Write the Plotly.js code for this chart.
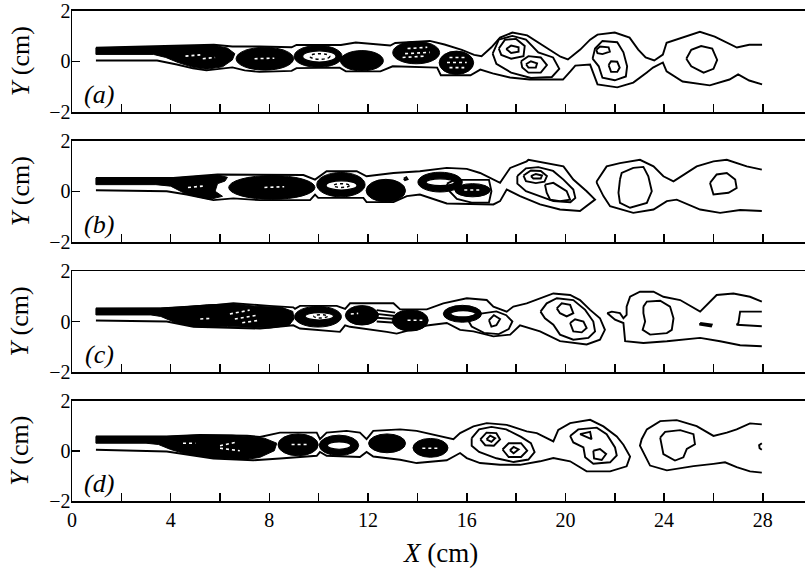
<!DOCTYPE html>
<html><head><meta charset="utf-8">
<script src="https://cdn.plot.ly/plotly-3.0.1.min.js"></script>
<style>body{margin:0;background:#fff}#chart{width:805px;height:568px}</style>
</head><body><div id="chart"></div>
<script>
// ---------- tick labels ----------
const xTickVals = [0,2,4,6,8,10,12,14,16,18,20,22,24,26,28];
const xTickText = ['0','','4','','8','','12','','16','','20','','24','','28'];
const yTickVals = [-2,0,2];
const yTickText = ['\u22122','0','2'];
const panelLabels = ['(a)','(b)','(c)','(d)'];

// ---------- panel (a) ----------
const aEnvelope = [
 [[0.97,0.53],[3.6,0.58],[5.0,0.62],[5.75,0.65],[6.5,0.58],[7.6,0.58],[8.9,0.55],[9.1,0.64],[10.9,0.64],[11.5,0.74],[12.9,0.62],[13.1,0.72],[14.5,0.8],[15.1,0.66],[15.8,0.45],[16.3,0.25],[16.6,0.2],[17.0,0.55],[17.35,0.93],[17.85,1.13],[18.45,1.02],[19.17,0.58],[19.8,0.18],[20.1,0.07],[20.6,0.46],[21.0,0.85],[21.3,1.05],[22.0,1.13],[22.6,0.93],[22.95,0.46],[23.25,0.15],[23.6,0.03],[23.95,0.26],[24.1,0.73],[24.85,0.97],[25.45,1.16],[26.05,0.97],[26.95,0.54],[27.45,0.65],[27.97,0.65]],
 [[0.97,0.03],[3.45,0.03],[4.25,-0.13],[4.9,-0.28],[5.45,-0.36],[6.5,-0.24],[7.0,-0.36],[7.6,-0.42],[8.9,-0.38],[9.1,-0.27],[10.85,-0.25],[11.1,-0.4],[12.5,-0.4],[13.0,-0.2],[14.8,-0.25],[14.95,-0.55],[16.15,-0.55],[16.55,-0.33],[17.05,-0.48],[17.75,-0.64],[18.55,-0.72],[19.9,-0.72],[20.2,-0.4],[20.4,-0.17],[21.0,-0.13],[21.3,-0.91],[22.1,-1.03],[22.75,-0.84],[23.3,-0.44],[23.55,-0.25],[23.95,-0.05],[24.1,-0.4],[24.75,-0.8],[25.85,-0.95],[26.65,-0.72],[27.0,-0.52],[27.45,-0.76],[27.97,-0.91]]
];
const aLoops = [
 [[17.05,0.3],[17.3,0.85],[17.85,1.0],[18.4,0.85],[18.9,0.35],[19.5,0.15],[19.75,-0.3],[19.45,-0.62],[18.6,-0.66],[17.8,-0.45],[17.2,-0.1]],
 [[17.3,0.5],[17.55,0.85],[18.0,0.88],[18.35,0.6],[18.3,0.2],[17.8,0.1],[17.4,0.25]],
 [[17.6,0.48],[17.8,0.62],[18.1,0.55],[18.1,0.38],[17.8,0.33]],
 [[18.2,0.0],[18.5,0.2],[19.0,0.15],[19.25,-0.15],[19.0,-0.45],[18.5,-0.45],[18.25,-0.25]],
 [[18.4,-0.12],[18.6,0.0],[18.85,-0.08],[18.8,-0.25],[18.5,-0.25]],
 [[21.1,0.1],[21.2,0.5],[21.5,0.8],[22.1,0.75],[22.35,0.35],[22.5,-0.2],[22.45,-0.6],[22.0,-0.75],[21.5,-0.65],[21.35,-0.2]],
 [[21.25,0.45],[21.4,0.58],[21.75,0.55],[21.8,0.38],[21.5,0.28],[21.3,0.32]],
 [[21.75,-0.15],[21.85,0.0],[22.1,-0.02],[22.2,-0.25],[22.1,-0.42],[21.85,-0.42]],
 [[24.9,0.1],[25.1,0.45],[25.5,0.6],[25.95,0.5],[26.15,0.05],[26.0,-0.3],[25.6,-0.45],[25.1,-0.2]]
];
const aJet = [[0.97,0.53],[3.5,0.56],[4.5,0.6],[5.3,0.62],[5.8,0.62],[6.3,0.52],[6.6,0.3],[6.5,0.05],[6.1,-0.22],[5.45,-0.32],[4.9,-0.24],[4.3,-0.05],[3.8,0.15],[3.3,0.27],[0.97,0.27]];
// blobs: [x0, x1, y0, y1]
const aBlobs = [[6.65,8.98,-0.35,0.55],[9.0,10.95,-0.24,0.62],[10.88,12.62,-0.38,0.42],[13.0,14.9,-0.1,0.78],[14.88,16.28,-0.52,0.4]];
const aHoles = [[9.35,10.7,-0.03,0.41]];
const aRings = [[9.65,10.45,0.08,0.3]];
const aStreaks = [
 [[13.5,0.3],[14.5,0.35]],[[13.6,0.5],[14.4,0.55]],[[13.4,0.15],[14.3,0.2]],
 [[15.2,-0.05],[16.0,-0.05]],[[15.3,0.15],[15.95,0.15]],[[15.3,-0.25],[15.9,-0.25]],
 [[4.6,0.2],[5.2,0.25]],[[5.3,0.1],[5.8,0.15]],[[7.4,0.1],[8.2,0.12]]
];

// ---------- panel (b) ----------
const bEnvelope = [
 [[0.97,0.52],[4.1,0.52],[5.9,0.66],[8.0,0.64],[9.38,0.64],[9.85,0.46],[10.32,0.79],[11.54,0.79],[11.94,0.59],[13.03,0.72],[14.1,0.79],[15.19,0.92],[16.0,0.88],[16.54,0.72],[17.35,0.33],[17.76,0.92],[18.43,1.18],[18.5,1.24],[19.51,1.05],[19.92,0.98],[20.32,0.46],[20.86,0.0],[21.2,-0.33],[20.86,-0.59],[20.59,-0.78],[19.78,-0.72],[18.97,-0.52],[18.16,-0.19],[17.89,-0.06],[17.62,0.07],[17.35,-0.39],[17.08,-0.52],[15.19,-0.48],[14.1,-0.13],[13.57,-0.19],[13.03,-0.43],[11.94,-0.43],[11.81,-0.26],[9.98,-0.26],[9.85,-0.13],[9.65,-0.35],[7.62,-0.35],[6.54,-0.28],[5.73,-0.35],[4.65,-0.13],[3.84,0.0],[0.97,0.04]],
 [[27.96,0.85],[27.35,0.98],[26.54,1.24],[26.0,1.18],[25.32,0.98],[24.38,0.39],[23.97,0.59],[23.57,0.98],[23.02,1.24],[22.21,1.11],[21.67,0.98],[21.27,0.39],[21.27,0.33],[21.54,-0.19],[21.81,-0.59],[22.75,-0.85],[23.57,-0.72],[24.11,-0.39],[24.51,-0.33],[25.46,-0.72],[26.27,-0.85],[27.08,-0.74],[27.96,-0.78]]
];
const bLoops = [
 [[18.05,0.6],[18.4,0.9],[18.9,0.95],[19.5,0.8],[19.92,0.46],[20.32,0.07],[20.4,-0.26],[20.2,-0.43],[19.51,-0.39],[18.97,-0.19],[18.4,0.0],[18.05,0.3]],
 [[18.3,0.62],[18.6,0.82],[19.0,0.8],[19.25,0.6],[19.15,0.38],[18.8,0.32],[18.4,0.4]],
 [[18.6,0.6],[18.8,0.68],[19.05,0.62],[19.0,0.5],[18.7,0.5]],
 [[19.17,0.26],[19.51,0.33],[20.05,0.0],[20.19,-0.33],[19.78,-0.39],[19.38,-0.33],[19.24,-0.06]],
 [[22.21,0.46],[22.28,0.72],[22.75,0.92],[23.16,0.96],[23.36,0.59],[23.5,0.0],[23.3,-0.46],[22.62,-0.65],[22.21,-0.46],[22.15,-0.06]],
 [[25.86,0.33],[26.13,0.66],[26.54,0.72],[26.88,0.46],[26.94,0.13],[26.61,-0.06],[26.0,-0.13]],
 [[15.2,0.3],[15.5,0.45],[16.9,0.45],[17.0,0.0],[16.9,-0.45],[16.2,-0.45],[15.6,-0.3],[15.3,0.0]],
 [[13.45,0.5],[13.55,0.55],[13.6,0.47],[13.5,0.44]]
];
const bJet = [[0.97,0.52],[4.2,0.53],[5.2,0.6],[5.9,0.64],[6.3,0.55],[6.2,0.4],[5.9,0.3],[5.8,0.0],[6.1,-0.2],[5.6,-0.32],[5.0,-0.2],[4.6,-0.1],[4.0,0.2],[3.4,0.26],[0.97,0.26]];
const bBlobs = [[6.35,9.85,-0.32,0.62],[9.92,11.88,-0.22,0.74],[11.92,13.52,-0.42,0.47],[14.02,15.82,-0.03,0.75],[15.52,16.95,-0.22,0.3]];
const bHoles = [[10.3,11.55,0.05,0.41],[14.35,15.5,0.22,0.49]];
const bRings = [[10.6,11.25,0.15,0.3]];
const bStreaks = [
 [[7.8,0.15],[8.6,0.18]],[[15.9,0.05],[16.6,0.05]],[[4.7,0.15],[5.3,0.2]]
];

// ---------- panel (c) ----------
const cEnvelope = [
 [[0.97,0.52],[3.57,0.52],[5.86,0.66],[6.54,0.72],[8.0,0.62],[8.97,0.56],[9.04,0.5],[9.24,0.62],[10.73,0.62],[11.07,0.5],[11.27,0.72],[13.03,0.72],[13.3,0.48],[14.38,0.48],[15.05,0.72],[16.0,0.92],[16.81,0.85],[17.08,0.59],[17.62,0.39],[17.89,0.59],[18.43,0.72],[18.97,0.92],[19.51,1.11],[20.19,1.05],[20.59,0.85],[21.0,0.46],[21.4,0.13],[21.6,-0.33],[21.4,-0.72],[20.86,-0.91],[19.78,-0.78],[18.97,-0.39],[18.16,-0.15],[17.76,-0.52],[17.08,-0.59],[16.27,-0.39],[15.73,-0.33],[15.19,-0.06],[14.38,-0.16],[13.16,-0.48],[12.76,-0.41],[11.27,-0.21],[11.07,-0.15],[10.86,-0.41],[9.24,-0.28],[8.97,-0.15],[7.62,-0.28],[4.92,-0.21],[3.84,0.0],[0.97,0.04]],
 [[27.96,0.79],[27.48,0.98],[26.81,1.11],[26.13,1.05],[25.46,0.39],[24.65,0.85],[23.97,0.98],[23.57,1.18],[23.02,1.18],[22.62,0.98],[22.48,0.59],[22.48,0.26],[22.35,0.13],[22.21,0.33],[21.88,0.39],[21.7,0.33],[22.01,0.07],[22.35,-0.06],[22.42,-0.78],[23.16,-0.85],[24.11,-0.78],[25.46,-0.65],[26.27,-0.78],[27.08,-0.94],[27.96,-0.98]],
 [[27.96,0.39],[27.08,0.39],[27.01,-0.06],[26.94,-0.13],[27.62,-0.17],[27.96,-0.19]],
 [[12.35,0.45],[13.1,0.35]],[[12.35,0.3],[13.1,0.22]],[[12.35,0.15],[13.1,0.1]],[[12.35,0.0],[13.1,-0.05]]
];
const cLoops = [
 [[18.99,0.39],[19.24,0.72],[19.65,0.92],[20.32,0.85],[20.8,0.46],[21.13,0.0],[21.2,-0.39],[20.93,-0.65],[20.32,-0.72],[19.78,-0.52],[19.51,-0.13],[19.17,0.13]],
 [[19.65,0.52],[19.85,0.72],[20.19,0.66],[20.32,0.33],[20.05,0.2],[19.78,0.33]],
 [[20.19,-0.06],[20.39,0.09],[20.73,0.0],[20.86,-0.26],[20.66,-0.43],[20.32,-0.39]],
 [[23.16,0.59],[23.3,0.79],[23.84,0.82],[24.24,0.59],[24.38,0.13],[24.31,-0.33],[24.11,-0.46],[23.43,-0.52],[23.13,-0.33],[23.23,0.0],[23.16,0.33]],
 [[25.46,-0.06],[25.93,-0.12],[25.9,-0.2],[25.46,-0.13]],
 [[16.0,0.15],[16.5,0.3],[17.2,0.4],[17.6,0.25],[17.85,0.0],[17.7,-0.3],[17.3,-0.5],[16.7,-0.45],[16.2,-0.2]],
 [[16.9,0.05],[17.1,0.25],[17.35,0.1],[17.2,-0.15],[17.0,-0.2]]
];
const cJet = [[0.97,0.52],[3.6,0.53],[4.5,0.58],[5.5,0.66],[6.5,0.7],[7.5,0.6],[8.5,0.56],[8.95,0.4],[9.0,0.1],[8.8,-0.15],[8.0,-0.26],[7.0,-0.22],[6.3,-0.2],[5.5,-0.24],[4.9,-0.2],[4.2,-0.05],[3.6,0.2],[3.2,0.26],[0.97,0.26]];
const cBlobs = [[9.02,10.92,-0.22,0.6],[11.08,12.42,-0.14,0.63],[12.98,14.44,-0.38,0.47],[15.05,16.6,-0.03,0.64]];
const cHoles = [[9.45,10.6,0.06,0.35],[15.35,16.35,0.18,0.43]];
const cRings = [[9.8,10.35,0.14,0.27]];
const cStreaks = [
 [[6.4,0.3],[7.2,0.45]],[[6.6,0.1],[7.5,0.25]],[[6.9,-0.05],[7.6,0.05]],[[5.2,0.1],[5.6,0.12]],
 [[11.3,0.3],[11.6,0.32]],[[13.6,0.05],[14.2,0.05]]
];

// ---------- panel (d) ----------
const dEnvelope = [
 [[0.97,0.57],[3.84,0.57],[5.19,0.63],[7.1,0.6],[7.62,0.55],[8.43,0.72],[9.92,0.72],[10.05,0.46],[10.32,0.72],[11.13,0.79],[11.67,0.72],[11.94,0.46],[12.21,0.79],[13.3,0.85],[13.97,0.79],[14.92,0.59],[15.46,0.46],[15.73,0.7],[16.27,0.97],[16.81,1.1],[17.62,1.03],[18.43,0.77],[18.84,0.7],[19.51,0.37],[19.71,0.83],[20.19,1.1],[21.0,1.23],[21.54,0.97],[22.08,0.57],[22.35,0.24],[22.62,-0.23],[22.48,-0.62],[21.81,-0.82],[20.86,-0.82],[20.19,-0.42],[19.51,-0.29],[18.97,-0.42],[18.16,-0.56],[17.35,-0.56],[16.54,-0.49],[16.0,-0.29],[15.73,-0.09],[15.19,-0.38],[13.97,-0.49],[13.3,-0.36],[12.21,-0.23],[11.94,-0.05],[11.67,-0.25],[10.32,-0.2],[10.05,-0.05],[9.92,-0.2],[8.43,-0.31],[7.62,-0.38],[7.35,-0.38],[5.73,-0.31],[4.65,-0.16],[3.84,-0.03],[0.97,0.04]],
 [[27.96,1.05],[27.48,1.09],[26.94,0.85],[26.54,0.72],[26.0,0.59],[25.32,0.98],[24.51,1.22],[23.84,1.18],[23.3,0.85],[23.09,0.46],[23.02,0.2],[23.23,-0.19],[23.43,-0.59],[24.11,-0.78],[25.19,-0.61],[26.0,-0.52],[26.47,-0.46],[26.94,-0.65],[27.48,-0.82],[27.96,-0.87]],
 [[27.96,0.3],[27.85,0.22],[27.87,0.1],[27.96,0.04]]
];
const dLoops = [
 [[20.19,0.59],[20.52,0.85],[21.27,0.92],[21.67,0.66],[22.01,0.13],[22.08,-0.19],[21.81,-0.46],[21.13,-0.52],[20.8,-0.26],[20.73,0.13],[20.32,0.33]],
 [[20.59,0.66],[21.0,0.75],[21.06,0.46]],
 [[21.13,0.0],[21.4,0.07],[21.65,-0.13],[21.47,-0.37],[21.16,-0.31]],
 [[23.84,0.52],[24.04,0.75],[24.65,0.82],[25.19,0.66],[25.25,0.26],[24.92,0.07],[24.78,-0.26],[24.44,-0.39],[23.97,-0.13],[23.9,0.2]],
 [[16.2,0.5],[16.5,0.85],[17.0,0.95],[17.6,0.85],[18.2,0.55],[18.6,0.3],[18.75,-0.05],[18.5,-0.35],[17.9,-0.45],[17.2,-0.3],[16.5,-0.05],[16.2,0.2]],
 [[16.55,0.45],[16.8,0.72],[17.2,0.7],[17.35,0.45],[17.1,0.2],[16.75,0.22]],
 [[16.8,0.45],[16.95,0.6],[17.15,0.5],[17.0,0.35]],
 [[17.45,0.05],[17.7,0.3],[18.2,0.3],[18.45,0.0],[18.2,-0.25],[17.7,-0.25]],
 [[17.75,0.02],[17.9,0.15],[18.1,0.05],[17.9,-0.1]]
];
const dJet = [[0.97,0.57],[3.84,0.57],[5.19,0.63],[6.5,0.62],[7.3,0.55],[7.8,0.5],[8.3,0.3],[8.2,0.0],[7.6,-0.27],[7.0,-0.35],[5.7,-0.29],[4.65,-0.14],[4.0,0.05],[3.5,0.25],[3.0,0.3],[0.97,0.3]];
const dBlobs = [[8.35,9.98,-0.2,0.67],[10.02,11.62,-0.19,0.62],[12.02,13.52,-0.08,0.67],[13.82,15.24,-0.26,0.49]];
const dHoles = [[10.35,11.3,0.06,0.35]];
const dRings = [];
const dStreaks = [
 [[6.0,0.2],[6.7,0.35]],[[6.0,0.1],[6.8,0.0]],[[4.5,0.3],[5.0,0.3]],
 [[8.9,0.25],[9.6,0.25]],[[14.2,0.1],[14.9,0.1]]
];

// ---------- build ----------
const panels = [
 {env:aEnvelope, loops:aLoops, jet:aJet, blobs:aBlobs, holes:aHoles, rings:aRings, streaks:aStreaks},
 {env:bEnvelope, loops:bLoops, jet:bJet, blobs:bBlobs, holes:bHoles, rings:bRings, streaks:bStreaks},
 {env:cEnvelope, loops:cLoops, jet:cJet, blobs:cBlobs, holes:cHoles, rings:cRings, streaks:cStreaks},
 {env:dEnvelope, loops:dLoops, jet:dJet, blobs:dBlobs, holes:dHoles, rings:dRings, streaks:dStreaks}
];
function joinLines(list, close){
  const x=[], y=[];
  list.forEach((pts,i)=>{
    if(i>0){x.push(null);y.push(null);}
    pts.forEach(p=>{x.push(p[0]);y.push(p[1]);});
    if(close){x.push(pts[0][0]);y.push(pts[0][1]);}
  });
  return {x,y};
}
const FONT = 'Liberation Serif';
const panelPx = [[10.5,112],[140.5,242],[271,372],[400.5,501]];
const H = 568;
const traces = [];
const layout = {
  width:805, height:568, margin:{l:72,r:0,t:0,b:0},
  paper_bgcolor:'#fff', plot_bgcolor:'#fff', showlegend:false,
  font:{family:FONT, color:'#000'}, annotations:[], shapes:[]
};
panels.forEach((p,i)=>{
  const xa = i===0?'x':'x'+(i+1), ya = i===0?'y':'y'+(i+1);
  const xk = i===0?'xaxis':'xaxis'+(i+1), yk = i===0?'yaxis':'yaxis'+(i+1);
  p.blobs.forEach(b=>layout.shapes.push({type:'circle',xref:xa,yref:ya,x0:b[0],x1:b[1],y0:b[2],y1:b[3],
    fillcolor:'#000',line:{color:'#000',width:1},layer:'below'}));
  p.holes.forEach(b=>layout.shapes.push({type:'circle',xref:xa,yref:ya,x0:b[0],x1:b[1],y0:b[2],y1:b[3],
    fillcolor:'#fff',line:{color:'#000',width:1.2},layer:'below'}));
  p.rings.forEach(b=>layout.shapes.push({type:'circle',xref:xa,yref:ya,x0:b[0],x1:b[1],y0:b[2],y1:b[3],
    fillcolor:'rgba(0,0,0,0)',line:{color:'#000',width:1.5,dash:'dot'},layer:'below'}));
  const j = joinLines([p.jet],true);
  traces.push({type:'scatter',mode:'lines',x:j.x,y:j.y,xaxis:xa,yaxis:ya,fill:'toself',fillcolor:'#000',line:{color:'#000',width:1},hoverinfo:'skip'});
  const s = joinLines(p.streaks,false);
  traces.push({type:'scatter',mode:'lines',x:s.x,y:s.y,xaxis:xa,yaxis:ya,line:{color:'#fff',width:1.6,dash:'dot'},hoverinfo:'skip'});
  const e = joinLines(p.env,false);
  traces.push({type:'scatter',mode:'lines',x:e.x,y:e.y,xaxis:xa,yaxis:ya,line:{color:'#000',width:1.9},hoverinfo:'skip'});
  const l = joinLines(p.loops,true);
  traces.push({type:'scatter',mode:'lines',x:l.x,y:l.y,xaxis:xa,yaxis:ya,line:{color:'#000',width:1.9},hoverinfo:'skip'});
  const dom = [(H-panelPx[i][1])/H,(H-panelPx[i][0])/H];
  layout[xk] = {anchor:ya, domain:[0,1], range:[0,29.71], showgrid:false, zeroline:false,
    showline:true, linecolor:'#000', linewidth:1.5, mirror:true,
    ticks:'inside', ticklen:8, tickwidth:1.5, tickcolor:'#000',
    tickmode:'array', tickvals:xTickVals, ticktext:xTickText, ticklabeloverflow:'allow',
    showticklabels:i===3, tickfont:{family:FONT,size:20,color:'#000'}, ticklabelstandoff:0};
  if(i>0) layout[xk].matches='x';
  layout[yk] = {anchor:xa, domain:dom, range:[-2,2], showgrid:false, zeroline:false,
    showline:true, linecolor:'#000', linewidth:1.5, mirror:false,
    ticks:'inside', ticklen:8, tickwidth:1.5, tickcolor:'#000',
    tickmode:'array', tickvals:yTickVals, ticktext:yTickText, ticklabeloverflow:'allow',
    tickfont:{family:FONT,size:20,color:'#000'}, ticklabelstandoff:-4};
  layout.annotations.push({xref:xa+' domain', yref:ya+' domain', x:0.037, y:0.17, xanchor:'center', yanchor:'middle',
    text:'<i>'+panelLabels[i]+'</i>', showarrow:false, font:{family:FONT,size:26,color:'#000'}});
  layout.annotations.push({xref:'paper', yref:'paper', x:-0.071, y:(dom[0]+dom[1])/2, xanchor:'center', yanchor:'middle',
    textangle:-90, text:'<i>Y</i> (cm)', showarrow:false, font:{family:FONT,size:26,color:'#000'}});
});
layout.annotations.push({xref:'paper', yref:'paper', x:0.503, y:(H-553)/H, xanchor:'center', yanchor:'middle',
  text:'<i>X</i> (cm)', showarrow:false, font:{family:FONT,size:27,color:'#000'}});
Plotly.newPlot('chart', traces, layout, {displayModeBar:false, staticPlot:true});
</script>
</body></html>
